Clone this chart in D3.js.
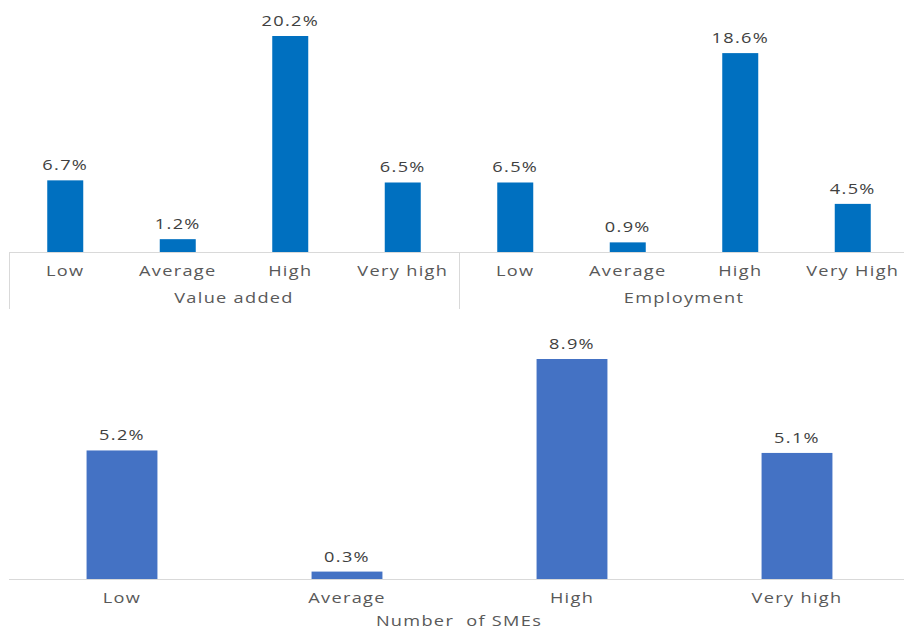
<!DOCTYPE html>
<html><head><meta charset="utf-8">
<script src="https://cdn.jsdelivr.net/npm/d3@7"></script>
<style>body{margin:0;background:#fff}svg{display:block}text{white-space:pre}</style>
</head><body>
<svg id="c" width="904" height="630"></svg>
<script>
const categories = ["Low","Average","High","Very high"];
const topGroups = ["Value added","Employment"];
const topCats = [["Low","Average","High","Very high"],["Low","Average","High","Very High"]];
const valueAdded = [6.7,1.2,20.2,6.5];
const employment = [6.5,0.9,18.6,4.5];
const smes = [5.2,0.3,8.9,5.1];
const bottomTitle = "Number  of SMEs";

const svg = d3.select("#c");
const FONT = "'Open Sans', sans-serif";
const SX = 1.3;
function stext(g, x, y, t, size, color){
  g.append("text").attr("transform",`translate(${x},${y}) scale(${SX},1)`)
   .attr("text-anchor","middle").attr("font-family",FONT).attr("font-size",size)
   .attr("letter-spacing","1px")
   .attr("fill",color).text(t);
}

// ---- top panel ----
const topSeries = [valueAdded, employment];
const flat = [];
topSeries.forEach((s,gi)=>s.forEach((v,ci)=>flat.push({gi,ci,v,key:gi+"-"+ci,cat:topCats[gi][ci]})));
const xTop = d3.scaleBand().domain(flat.map(d=>d.key)).range([9,909]).paddingInner(0.68).paddingOuter(0.34);
const yTop = d3.scaleLinear().domain([0,20.2]).range([252,36]);
const gt = svg.append("g");
gt.selectAll("rect").data(flat).join("rect")
  .attr("x",d=>xTop(d.key)).attr("width",xTop.bandwidth())
  .attr("y",d=>yTop(d.v)).attr("height",d=>yTop(0)-yTop(d.v)).attr("fill","#0070C0");
flat.forEach(d=>stext(gt, xTop(d.key)+xTop.bandwidth()/2, yTop(d.v)-10, d.v.toFixed(1)+"%", 14, "#404040"));
gt.append("line").attr("x1",9).attr("x2",904).attr("y1",252.5).attr("y2",252.5).attr("stroke","#d9d9d9");
const step = xTop.step();
[0,1].forEach(gi=>{
  const x0 = 9 + gi*4*step;
  gt.append("line").attr("x1",x0+0.5).attr("x2",x0+0.5).attr("y1",252).attr("y2",309).attr("stroke","#d9d9d9");
});
flat.forEach(d=>stext(gt, xTop(d.key)+xTop.bandwidth()/2, 276, d.cat, 14, "#595959"));
topGroups.forEach((g,gi)=>stext(gt, 9 + gi*4*step + 2*step, 303, g, 14, "#595959"));

// ---- bottom panel ----
const xB = d3.scaleBand().domain(categories).range([9.5,909.5]).paddingInner(0.685).paddingOuter(0.3425);
const yB = d3.scaleLinear().domain([0,8.9]).range([579,359]);
const gb = svg.append("g");
gb.selectAll("rect").data(smes).join("rect")
  .attr("x",(d,i)=>xB(categories[i])).attr("width",xB.bandwidth())
  .attr("y",d=>yB(d)).attr("height",d=>yB(0)-yB(d)).attr("fill","#4472C4");
smes.forEach((v,i)=>stext(gb, xB(categories[i])+xB.bandwidth()/2, yB(v)-10, v.toFixed(1)+"%", 14, "#404040"));
gb.append("line").attr("x1",9).attr("x2",904).attr("y1",579.5).attr("y2",579.5).attr("stroke","#d9d9d9");
categories.forEach(c=>stext(gb, xB(c)+xB.bandwidth()/2, 603, c, 14, "#595959"));
stext(gb, 459, 626, bottomTitle, 14, "#595959");
</script>
</body></html>
